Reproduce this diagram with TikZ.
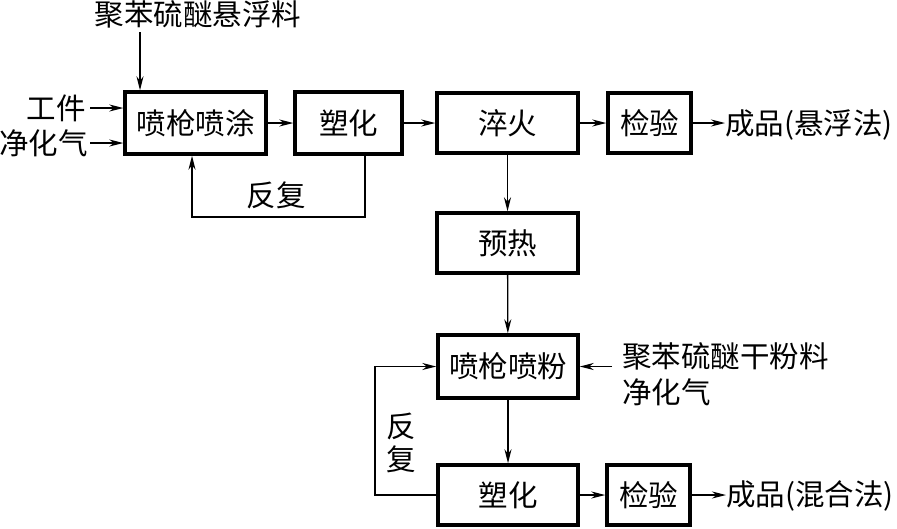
\documentclass[tikz,border=0pt]{standalone}
\usepackage{fontspec}
\newfontfamily\cjk{Noto Sans CJK SC}
\usetikzlibrary{arrows.meta}
\begin{document}
\begin{tikzpicture}[x=1pt,y=-1pt,
  every node/.style={font=\cjk\fontsize{29.5}{33}\selectfont},
  boxnode/.style={draw,line width=3.5pt,inner sep=0pt,anchor=center},
  lbl/.style={inner sep=0pt},
  arr/.style={line width=1.3pt,-{Stealth[length=14pt,width=7pt]}},
  ln/.style={line width=1.3pt}]
\useasboundingbox (0,0) rectangle (897,528);
% boxes
\node[boxnode,minimum width=141pt,minimum height=62pt] (A) at (195.5,123) {喷枪喷涂};
\node[boxnode,minimum width=107pt,minimum height=62pt] (B) at (348.5,123) {塑化};
\node[boxnode,minimum width=141pt,minimum height=60pt] (C) at (507.5,123) {淬火};
\node[boxnode,minimum width=83pt,minimum height=60pt] (D) at (649.5,123) {检验};
\node[boxnode,minimum width=141pt,minimum height=60pt] (E) at (507.5,243) {预热};
\node[boxnode,minimum width=140pt,minimum height=63pt] (F) at (508,366.5) {喷枪喷粉};
\node[boxnode,minimum width=140pt,minimum height=60pt] (G) at (508,495) {塑化};
\node[boxnode,minimum width=83pt,minimum height=60pt] (H) at (648.5,495) {检验};
% labels
\node[lbl] (t1) at (198,14) {聚苯硫醚悬浮料};
\node[lbl,anchor=east] (t2) at (86,108) {工件};
\node[lbl,anchor=east] (t3) at (88,143) {净化气};
\node[lbl] (t4) at (276,195) {反复};
\node[lbl,anchor=west] (t5) at (725,125) {成品(悬浮法)};
\node[lbl,anchor=west] (t6) at (622,356) {聚苯硫醚干粉料};
\node[lbl,anchor=west] (t7) at (622,392) {净化气};
\node[lbl,align=center] (t8) at (401,443) {反\\复};
\node[lbl,anchor=west] (t9) at (726,496) {成品(混合法)};
% coordinates
\coordinate (c1) at (140,32);
\coordinate (c2) at (365,217);
\coordinate (c3) at (192,217);
\coordinate (c4) at (612,366.5);
\coordinate (c5) at (375,495);
\coordinate (c6) at (375,366.5);
\coordinate (c7) at (90,0);
% connectors
\draw[arr] (c1) -- (c1 |- A.north);
\draw[arr] (t2.east -| c7) -- (t2.east -| A.west);
\draw[arr] (t3.east -| c7) -- (t3.east -| A.west);
\draw[arr] (A) -- (B);
\draw[arr] (B) -- (C);
\draw[arr] (C) -- (D);
\draw[arr] (D.east) -- (D.east -| t5.west);
\draw[arr] (B.south -| c2) -- (c2) -- (c3) -- (c3 |- A.south);
\draw[arr] (C) -- (E);
\draw[arr] (E) -- (F);
\draw[arr] (c4) -- (F.east);
\draw[arr] (F) -- (G);
\draw[arr] (G) -- (H);
\draw[arr] (H.east) -- (H.east -| t9.west);
\draw[arr] (G.west) -- (c5) -- (c6) -- (F.west);
\end{tikzpicture}
\end{document}
